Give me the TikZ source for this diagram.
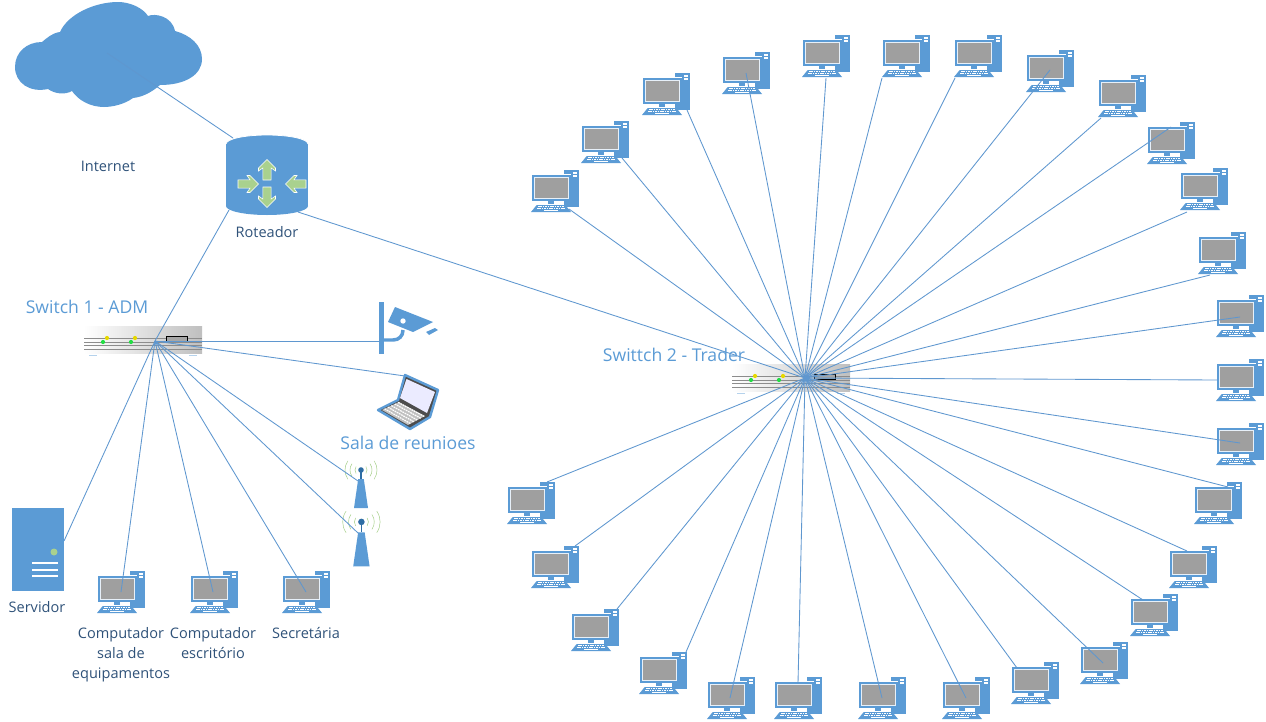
\documentclass[tikz,border=0pt]{standalone}
\usepackage{fontspec}
\setmainfont{Open Sans}
\usepackage{xcolor}
\usetikzlibrary{calc}
\definecolor{iconblue}{HTML}{5B9BD5}
\definecolor{linkblue}{HTML}{5F97CF}
\definecolor{palegreen}{HTML}{A9D18E}
\definecolor{textblue}{HTML}{2F5279}
\definecolor{dotblue}{HTML}{2E6DA4}
\definecolor{ledgreen}{HTML}{22DD44}
\definecolor{ledyellow}{HTML}{E6D800}
\tikzstyle{icon} = [inner sep=0pt, outer sep=0pt, anchor=north west]
\tikzstyle{link} = [linkblue, line width=0.65pt]
\tikzstyle{tag} = [text=textblue, align=center, font=\fontsize{10.9}{15}\selectfont]
\tikzstyle{bigtag} = [text=iconblue, align=center, font=\fontsize{13.2}{16}\selectfont]
\tikzset{
  desktop/.pic={
    \node (-box) [icon, minimum width=36pt, minimum height=31.5pt] at (0,0) {};
    \fill [iconblue] (33,0) rectangle (48,37);
    \fill [white] (42,2) rectangle (46.3,6.5);
    \fill [iconblue] (42,3.6) rectangle (46.3,4.6);
    \fill [white] (0.6,4.4) rectangle (40.4,31.4);
    \fill [iconblue] (1.3,5) rectangle (39.7,30.7);
    \fill [white!85!iconblue] (3,6.8) rectangle (37.6,28.6);
    \fill [gray!75] (3.7,7.7) rectangle (36.7,27.7);
    \fill [iconblue] (17,31.4) rectangle (23,34.2);
    \fill [iconblue] (5.7,35) -- (34.3,35) -- (40,42) -- (0,42) -- cycle;
    \draw [white, line width=0.7pt, dash pattern=on 1.2pt off 0.6pt] (7,36.8) -- (33,36.8);
    \draw [white, line width=0.7pt, dash pattern=on 1.2pt off 0.6pt] (6,38.8) -- (34,38.8);
    \fill [white] (13,40.2) rectangle (27,41.2);
  },
  switchbox/.pic={
    \node (-box) [icon, minimum width=88.5pt, minimum height=24pt] at (0,0) {};
    \fill [left color=white, right color=black!25] (0,0) rectangle (118,27);
    \foreach \yy in {12,16,19,23.5}
      \draw [black!45, line width=0.6pt] (0,\yy) -- (118,\yy);
    \foreach \xx in {0,28} {
      \fill [ledgreen] (19+\xx,16) circle (2.1);
      \fill [ledyellow] (23+\xx,12) circle (2.1);
    }
    \draw [black, line width=0.7pt, fill=black!35] (82,10) rectangle (103,15);
    \fill [iconblue!45] (5,28.5) rectangle (13,29.5);
    \fill [iconblue!45] (105,28.5) rectangle (113,29.5);
  },
  antennabox/.pic={
    \node (-box) [icon, minimum width=30pt, minimum height=42.75pt] at (0,0) {};
    \foreach \rr in {6,11,16} {
      \draw [palegreen, line width=0.4pt] ([shift={(145:\rr)}]20,17) arc (145:215:\rr);
      \draw [palegreen, line width=0.4pt] ([shift={(-35:\rr)}]20,17) arc (-35:35:\rr);
    }
    \draw [dotblue, line width=0.8pt] (20,17) -- (20,26);
    \fill [dotblue] (20,17) circle (2.8);
    \fill [iconblue] (17.2,26) -- (22.8,26) -- (27,55) -- (13,55) -- cycle;
  },
  cloudbox/.pic={
    \node (-box) [icon, minimum width=157.5pt, minimum height=82.5pt] at (0,0) {};
    \fill [iconblue] (15,67) .. controls (15,52) and (27,42) .. (42,42)
      .. controls (47,38) and (52,33) .. (60,32)
      .. controls (68,14) and (95,2) .. (118,2)
      .. controls (130,2) and (143,8) .. (148,16)
      .. controls (155,13) and (172,16) .. (175,31)
      .. controls (190,35) and (202,45) .. (202,59)
      .. controls (202,75) and (185,85) .. (160,85)
      .. controls (152,92) and (143,97) .. (133,98)
      .. controls (125,104) and (113,107) .. (104,107)
      .. controls (90,107) and (78,100) .. (72,91)
      .. controls (65,95) and (55,94) .. (48,89)
      .. controls (30,93) and (15,83) .. (15,67) -- cycle;
  },
  routerbox/.pic={
    \node (-box) [icon, minimum width=63pt, minimum height=63pt] at (0,0) {};
    \fill [iconblue] (1,10) rectangle (83,72);
    \fill [iconblue] (42,72) ellipse (41 and 9);
    \fill [iconblue] (42,10) ellipse (41 and 9);
    \draw [white, line width=0.6pt] (1,10) arc (180:360:41 and 9);
    \foreach \ax/\ay/\ang in {42/36/0, 42/63/180, 23/50/-90, 71/50/90}
      \draw [white, line width=0.4pt, fill=palegreen, shift={(\ax,\ay)}, rotate=\ang]
        (0,-10.5) -- (8.5,-2) -- (8.5,1) -- (4.2,-2) -- (4.2,10) -- (-4.2,10) -- (-4.2,-2) -- (-8.5,1) -- (-8.5,-2) -- cycle;
  },
  serverbox/.pic={
    \node (-box) [icon, minimum width=39pt, minimum height=62.25pt] at (0,0) {};
    \fill [iconblue] (0,0) rectangle (52,83);
    \fill [palegreen] (42,44) circle (3.5);
    \foreach \yy in {55,62,68}
      \fill [white] (20,\yy-0.7) rectangle (46,\yy+0.7);
  },
  camerabox/.pic={
    \node (-box) [icon, minimum width=46.5pt, minimum height=39pt] at (0,0) {};
    \fill [iconblue] (0,0) rectangle (5,52);
    \draw [iconblue, line width=2.6pt] (4,38) -- (14,38) .. controls (20,38) and (24,34) .. (24,28);
    \fill [iconblue] (16,5) -- (54,20) -- (34,30) -- (9,20) -- cycle;
    \fill [white] (24,19) circle (2.7);
    \fill [iconblue] (47,30) -- (56,26) -- (59,28) -- (50,33) -- cycle;
  },
  laptopbox/.pic={
    \node (-box) [icon, minimum width=54pt, minimum height=48pt] at (0,0) {};
    \draw [iconblue, line width=1.8pt, line join=round, fill=black!70]
      (33,5) -- (66,20) -- (58,47) -- (38,59) -- (6,40) -- (26,30) -- cycle;
    \fill [blue!8!white] (34.5,9) -- (63,22) -- (55,43) -- (28,28) -- cycle;
    \fill [black!25] (10,40) -- (27,32) -- (53,46) -- (36,55) -- cycle;
    \foreach \tpos in {0.15,0.35,0.55,0.75,0.95}
      \draw [white, line width=0.9pt, dash pattern=on 1.3pt off 0.6pt]
        ($(10,40)!\tpos!(27,32)$) -- ($(36,55)!\tpos!(53,46)$);
  }
}
\begin{document}
\begin{tikzpicture}[x=0.75pt, y=-0.75pt]
  \useasboundingbox (0,0) rectangle (1266,721);
  % Left side devices
  \pic (cloud) at (0,0) {cloudbox};
  \pic (router) at (225,134) {routerbox};
  \pic (switch1) at (84,326) {switchbox};
  \pic (camera) at (379,302) {camerabox};
  \pic (laptop) at (372,370) {laptopbox};
  \pic (antenna1) at (341,453) {antennabox};
  \pic (antenna2) [scale=1.17] at (338,502) {antennabox};
  \pic (server) at (12,508) {serverbox};
  \pic (pcsala) at (97,571) {desktop};
  \pic (pcoffice) at (190,571) {desktop};
  \pic (pcsecret) at (282,571) {desktop};
  \pic (switch2) at (732,364) {switchbox};

  % Free ends of the connectors
  \coordinate (hub1) at (155,341);
  \coordinate (hub2) at (805,378);
  \coordinate (cloudport) at (107,53);
  \coordinate (routerup) at (233,138);
  \coordinate (routerleft) at (229,210);
  \coordinate (routerright) at (298,212);
  \coordinate (cameraport) at (380,341);
  \coordinate (laptopport) at (405,376);
  \coordinate (antennaport1) at (358,481);
  \coordinate (antennaport2) at (358,533);
  \coordinate (serverport) at (64,541);
  \coordinate (salaport) at (121,592);
  \coordinate (officeport) at (213,592);
  \coordinate (secretport) at (306,592);

  % Router connections
  \draw [link] (cloudport) -- (routerup);
  \draw [link] (routerleft) -- (hub1);
  \draw [link] (routerright) -- (hub2);

  % Switch 1 connections
  \foreach \port in {cameraport,laptopport,antennaport1,antennaport2,serverport,salaport,officeport,secretport}
    \draw [link] (hub1) -- (\port);

  % Computers round switch 2
  \foreach \id/\px/\py/\ex/\ey in {
      1/531/170/569/209, 2/581/121/622/158, 3/642/73/687/110, 4/722/52/746/73,
      5/802/35/826/78, 6/882/35/882/78, 7/954/35/955/78, 8/1026/50/1050/70,
      9/1098/75/1101/118, 10/1147/122/1171/127, 11/1180/168/1187/212, 12/1198/232/1210/275,
      13/1216/295/1240/317, 14/1216/359/1217/380, 15/1216/423/1240/443, 16/1194/482/1228/487,
      17/1169/546/1187/551, 18/1130/594/1143/600, 19/1080/642/1103/663, 20/1011/662/1017/668,
      21/942/677/966/698, 22/858/677/882/698, 23/774/677/798/683, 24/707/677/730/698,
      25/639/652/686/652, 26/571/609/617/609, 27/531/546/575/546, 28/507/482/547/482} {
    \pic (pc\id) at (\px,\py) {desktop};
    \coordinate (pcport\id) at (\ex,\ey);
    \draw [link] (hub2) -- (pcport\id);
  }

  % Labels
  \node (internetlabel) [tag] at (108,166) {Internet};
  \node (routerlabel) [tag] at (267,232) {Roteador};
  \node (serverlabel) [tag] at (37,607) {Servidor};
  \node (salalabel) [tag, anchor=north] at (121,623) {Computador\\sala de\\equipamentos};
  \node (officelabel) [tag, anchor=north] at (213,623) {Computador\\escritório};
  \node (secretlabel) [tag, anchor=north] at (306,623) {Secretária};
  \node (switch1label) [bigtag] at (87,307) {Switch 1 - ADM};
  \node (switch2label) [bigtag] at (674,355) {Swittch 2 - Trader};
  \node (laptoplabel) [bigtag] at (408,443) {Sala de reunioes};
\end{tikzpicture}
\end{document}
